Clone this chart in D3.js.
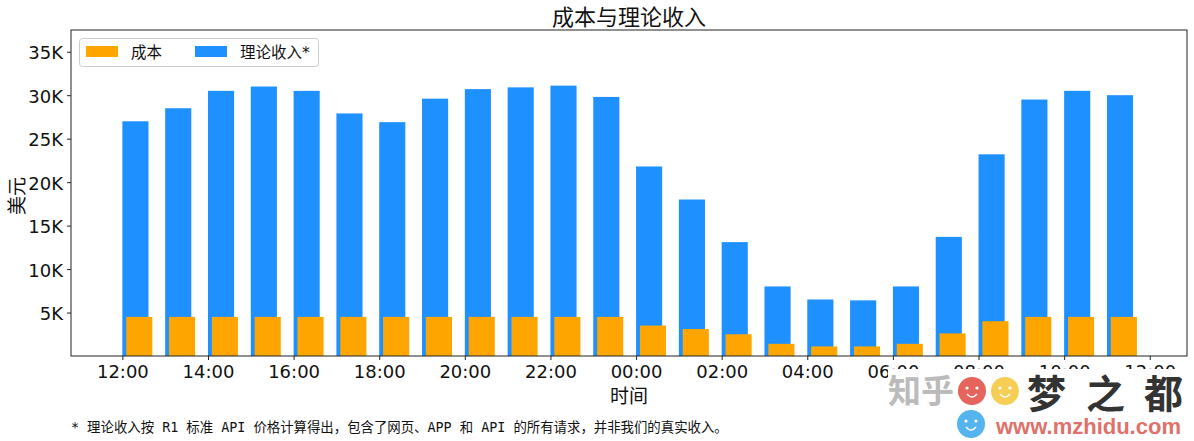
<!DOCTYPE html>
<html>
<head>
<meta charset="utf-8">
<script src="https://cdn.jsdelivr.net/npm/d3@7"></script>
<style>
  html, body { margin: 0; padding: 0; background: #fff; }
  svg { display: block; }
</style>
</head>
<body>
<script>
const WIDTH = 1194;
const HEIGHT = 441;
const FONT = '"DejaVu Sans", "Noto Sans CJK SC", sans-serif';
const MONO = '"DejaVu Sans Mono", "Noto Sans CJK SC", monospace';

// hours since 12:00
const hours = d3.range(24);
const revenue = [27.0, 28.5, 30.5, 31.0, 30.5, 27.9, 26.9, 29.6, 30.7, 30.9, 31.1, 29.8,
  21.8, 18.0, 13.1, 8.0, 6.5, 6.4, 8.0, 13.7, 23.2, 29.5, 30.5, 30.0];
const cost = [4.5, 4.5, 4.5, 4.5, 4.5, 4.5, 4.5, 4.5, 4.5, 4.5, 4.5, 4.5,
  3.5, 3.1, 2.5, 1.4, 1.1, 1.1, 1.4, 2.6, 4.0, 4.5, 4.5, 4.5];
const xTicks = [0, 2, 4, 6, 8, 10, 12, 14, 16, 18, 20, 22, 24];
const xTickLabels = ['12:00', '14:00', '16:00', '18:00', '20:00', '22:00', '00:00',
  '02:00', '04:00', '06:00', '08:00', '10:00', '12:00'];
const yTicks = [5, 10, 15, 20, 25, 30, 35];

const margin = { left: 71, right: 7, top: 30, bottom: 85 };
const svg = d3.select('body').append('svg')
  .attr('width', WIDTH)
  .attr('height', HEIGHT)
  .attr('viewBox', `0 0 ${WIDTH} ${HEIGHT}`);

const x = d3.scaleLinear().domain([-1.2, 24.87]).range([margin.left, WIDTH - margin.right]);
const y = d3.scaleLinear().domain([0, 37.5]).range([HEIGHT - margin.bottom, margin.top]);
const barW = x(0.61) - x(0);
const COST_OFFSET = 0.09;

svg.append('g').selectAll('rect').data(hours).join('rect')
  .attr('x', d => x(d))
  .attr('y', d => y(revenue[d]))
  .attr('width', barW)
  .attr('height', d => y(0) - y(revenue[d]))
  .attr('fill', '#1E90FF');

svg.append('g').selectAll('rect').data(hours).join('rect')
  .attr('x', d => x(d + COST_OFFSET))
  .attr('y', d => y(cost[d]))
  .attr('width', barW)
  .attr('height', d => y(0) - y(cost[d]))
  .attr('fill', '#FFA500');

const xAxis = svg.append('g')
  .attr('transform', `translate(0,${y(0)})`)
  .call(d3.axisBottom(x).tickValues(xTicks).tickFormat((d, i) => xTickLabels[i]).tickSize(4).tickPadding(5));
const yAxis = svg.append('g')
  .attr('transform', `translate(${margin.left},0)`)
  .call(d3.axisLeft(y).tickValues(yTicks).tickFormat(d => `${d}K`).tickSize(4).tickPadding(4));
[xAxis, yAxis].forEach(a => {
  a.select('.domain').remove();
  a.selectAll('line').attr('stroke', '#222');
  a.selectAll('text').attr('font-family', FONT).attr('font-size', 18).attr('fill', '#111');
});
yAxis.selectAll('text').attr('dy', '0.4em');

// frame
svg.append('rect')
  .attr('x', margin.left).attr('y', margin.top)
  .attr('width', WIDTH - margin.left - margin.right)
  .attr('height', HEIGHT - margin.top - margin.bottom)
  .attr('fill', 'none')
  .attr('stroke', '#222')
  .attr('stroke-width', 1);

function addText(px, py, text, opts = {}) {
  const { size = 18, anchor = 'middle', family = FONT, fill = '#111', weight = 400, rotate = 0 } = opts;
  return svg.append('text')
    .attr('transform', `translate(${px},${py}) rotate(${rotate})`)
    .attr('font-size', size)
    .attr('font-family', family)
    .attr('font-weight', weight)
    .attr('text-anchor', anchor)
    .attr('fill', fill)
    .text(text);
}

addText(629, 25, '成本与理论收入', { size: 22 });
addText(629, 403, '时间', { size: 19 });
addText(24, 196, '美元', { size: 19, rotate: -90 });
addText(71, 432, '* 理论收入按 R1 标准 API 价格计算得出，包含了网页、APP 和 API 的所有请求，并非我们的真实收入。', { size: 13.4, anchor: 'start', family: MONO });

// legend
const legend = svg.append('g');
legend.append('rect')
  .attr('x', 79.5).attr('y', 38.5).attr('width', 239).attr('height', 28).attr('rx', 3)
  .attr('fill', '#fff').attr('stroke', '#ccc');
legend.append('rect').attr('x', 86).attr('y', 46).attr('width', 32).attr('height', 11).attr('fill', '#FFA500');
legend.append('rect').attr('x', 195).attr('y', 46).attr('width', 32).attr('height', 11).attr('fill', '#1E90FF');
addText(131, 58, '成本', { size: 15.5, anchor: 'start' });
addText(240, 58, '理论收入*', { size: 15.5, anchor: 'start' });

// site watermark over the bottom right corner
const wm = svg.append('g');
wm.append('rect').attr('x', 888).attr('y', 369).attr('width', 306).attr('height', 72).attr('fill', '#fff');
addText(888, 403, '知乎', { size: 33, anchor: 'start', fill: '#bbb', weight: 700 });

function bubble(cx, cy, color, faceColor) {
  wm.append('circle').attr('cx', cx).attr('cy', cy).attr('r', 14).attr('fill', color);
  wm.append('circle').attr('cx', cx - 5).attr('cy', cy - 3).attr('r', 1.6).attr('fill', faceColor);
  wm.append('circle').attr('cx', cx + 5).attr('cy', cy - 3).attr('r', 1.6).attr('fill', faceColor);
  wm.append('path')
    .attr('d', `M${cx - 5},${cy + 3}Q${cx},${cy + 9} ${cx + 5},${cy + 3}`)
    .attr('fill', 'none').attr('stroke', faceColor).attr('stroke-width', 1.5);
}
bubble(972, 391, '#E5645C', '#fff');
bubble(1005, 391, '#F7CE55', '#fff');
bubble(971, 424, '#55B4EE', '#fff');

addText(1027, 408, '梦', { size: 39, anchor: 'start', fill: '#333', weight: 700 });
addText(1086, 408, '之', { size: 39, anchor: 'start', fill: '#333', weight: 700 });
addText(1144, 408, '都', { size: 39, anchor: 'start', fill: '#333', weight: 700 });
addText(996, 434, 'www.mzhidu.com', { size: 22, anchor: 'start', fill: '#E0706A', weight: 700, family: '"Liberation Sans", sans-serif' });
</script>
</body>
</html>
